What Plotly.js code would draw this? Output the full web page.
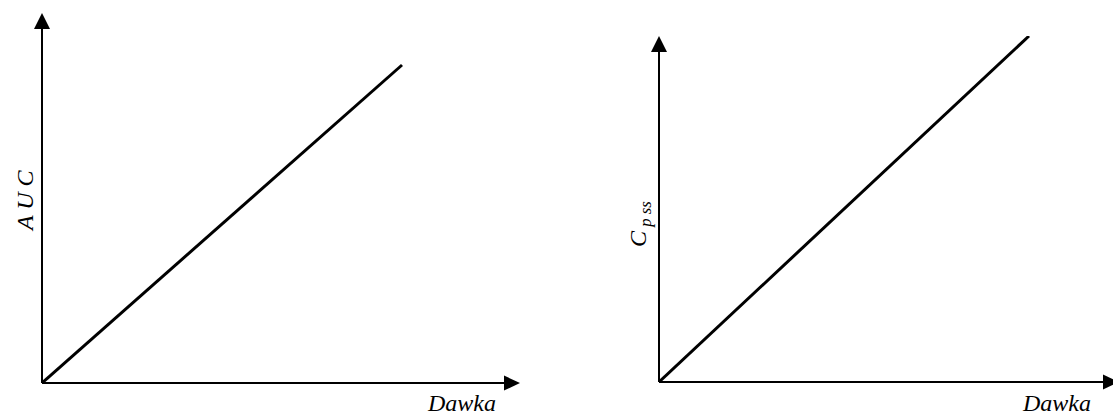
<!DOCTYPE html>
<html>
<head>
<meta charset="utf-8">
<script src="https://cdn.plot.ly/plotly-3.0.1.min.js"></script>
<style>
  html, body { margin: 0; padding: 0; background: #fff; }
  #chart { width: 1113px; height: 415px; }
</style>
</head>
<body>
<div id="chart"></div>
<script>
// Linear pharmacokinetics: exposure grows in proportion to dose
const dose = [0, 1];
const auc = [0, 1];
const cpss = [0, 1];

const xLabel = 'Dawka';
const yLabelLeft = 'A U C';
const yLabelRight = 'C<sub> p ss</sub>';

const W = 1113, H = 415;
// pixel helpers for paper coordinates
const px = x => x / W;
const py = y => 1 - y / H;

const serif = 'Times New Roman, Liberation Serif, DejaVu Serif, serif';

const traces = [
  { x: dose, y: auc, xaxis: 'x', yaxis: 'y', mode: 'lines',
    line: { color: '#000', width: 3 }, hoverinfo: 'skip' },
  { x: dose, y: cpss, xaxis: 'x2', yaxis: 'y2', mode: 'lines',
    line: { color: '#000', width: 3 }, hoverinfo: 'skip' }
];

const hidden = { visible: false, fixedrange: true };

// axis lines with arrowheads
function axisShapes(ox, oy, topBase, topTip, rightBase, rightTip) {
  const s = [];
  s.push({ type: 'line', xref: 'paper', yref: 'paper',
    x0: px(ox), y0: py(oy), x1: px(ox), y1: py(topBase),
    line: { color: '#000', width: 2 } });
  s.push({ type: 'path', xref: 'paper', yref: 'paper',
    path: `M ${px(ox)},${py(topTip)} L ${px(ox - 8)},${py(topBase)} L ${px(ox + 8)},${py(topBase)} Z`,
    fillcolor: '#000', line: { color: '#000', width: 0 } });
  s.push({ type: 'line', xref: 'paper', yref: 'paper',
    x0: px(ox), y0: py(oy), x1: px(rightBase), y1: py(oy),
    line: { color: '#000', width: 2 } });
  s.push({ type: 'path', xref: 'paper', yref: 'paper',
    path: `M ${px(rightTip)},${py(oy)} L ${px(rightBase)},${py(oy - 7.5)} L ${px(rightBase)},${py(oy + 7.5)} Z`,
    fillcolor: '#000', line: { color: '#000', width: 0 } });
  return s;
}

const labelFont = { family: serif, size: 24, color: '#000', style: 'italic' };

const layout = {
  width: W, height: H,
  margin: { l: 0, r: 0, t: 0, b: 0 },
  paper_bgcolor: '#fff', plot_bgcolor: 'rgba(0,0,0,0)',
  showlegend: false,
  font: { family: serif },
  xaxis: Object.assign({ domain: [px(42), px(520)], range: [0, 478 / 360], anchor: 'y' }, hidden),
  yaxis: Object.assign({ domain: [py(383), py(13)], range: [0, 370 / 318], anchor: 'x' }, hidden),
  xaxis2: Object.assign({ domain: [px(659), 1], range: [0, 454 / 370], anchor: 'y2' }, hidden),
  yaxis2: Object.assign({ domain: [py(382), py(36)], range: [0, 1], anchor: 'x2' }, hidden),
  shapes: [].concat(
    axisShapes(42, 383, 29, 13, 504, 520),
    axisShapes(659, 382, 52, 36, 1103, 1119)
  ),
  annotations: [
    { xref: 'paper', yref: 'paper', x: px(461), y: py(403), text: xLabel, showarrow: false,
      xanchor: 'center', yanchor: 'middle', font: labelFont },
    { xref: 'paper', yref: 'paper', x: px(1056), y: py(403), text: xLabel, showarrow: false,
      xanchor: 'center', yanchor: 'middle', font: labelFont },
    { xref: 'paper', yref: 'paper', x: px(25), y: py(201), text: yLabelLeft, showarrow: false,
      textangle: -90, xanchor: 'center', yanchor: 'middle', font: labelFont },
    { xref: 'paper', yref: 'paper', x: px(640), y: py(224), text: yLabelRight, showarrow: false,
      textangle: -90, xanchor: 'center', yanchor: 'middle', font: labelFont }
  ]
};

Plotly.newPlot('chart', traces, layout, { staticPlot: true, displayModeBar: false });
</script>
</body>
</html>
